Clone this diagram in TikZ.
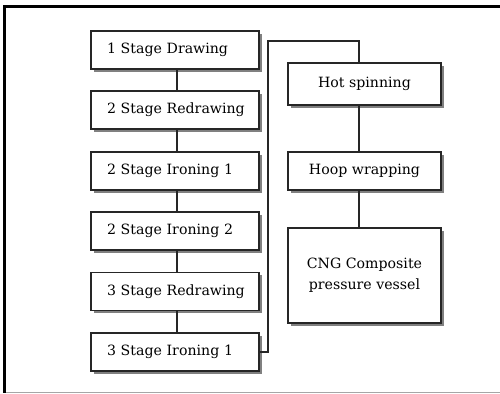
\documentclass[tikz,border=0pt]{standalone}
\usepackage{fontspec}
\setmainfont{DejaVu Serif}
\usetikzlibrary{shadows}
\begin{document}
\begin{tikzpicture}[x=1bp,y=-1bp,
  box/.style={draw=black!85, line width=1.1bp, fill=white, minimum height=38bp,
    font=\fontsize{14.2}{21}\selectfont,
    drop shadow={shadow xshift=2.5bp, shadow yshift=-2.5bp, fill=black!50, opacity=1}},
  lbox/.style={box, text width=168bp, inner xsep=0pt, align=left,
    execute at begin node={\hspace*{16bp}}},
  rbox/.style={box, minimum width=153bp, align=center},
  link/.style={draw=black!85, line width=1.1bp}]
\useasboundingbox (0,0) rectangle (500,393);
\fill[white] (0,0) rectangle (500,393);
% frame
\draw[line width=0.8bp, black!35] (4,392) -- (500,392);
\draw[line width=3bp] (500,6) -- (4,6) -- (4,393);
% left column
\node[lbox] (b1) at (175,50) {1 Stage Drawing};
\node[lbox] (b2) at (175,110) {2 Stage Redrawing};
\node[lbox] (b3) at (175,171) {2 Stage Ironing 1};
\node[lbox] (b4) at (175,231) {2 Stage Ironing 2};
\node[lbox] (b5) at (175,291.5) {3 Stage Redrawing};
\node[lbox] (b6) at (175,352) {3 Stage Ironing 1};
% right column
\node[rbox, minimum height=42bp] (hs) at (364.5,84) {Hot spinning};
\node[rbox] (hw) at (364.5,171) {Hoop wrapping};
\node[rbox, minimum height=95bp] (cng) at (364.5,275.5) {CNG Composite\\pressure vessel};
% connectors
\foreach \a/\b in {b1/b2,b2/b3,b3/b4,b4/b5,b5/b6}
  \draw[link] ([xshift=2bp]\a.south) -- ([xshift=2bp]\b.north);
\draw[link] ([xshift=-5.5bp]hs.south) -- ([xshift=-5.5bp]hw.north);
\draw[link] ([xshift=-5.5bp]hw.south) -- ([xshift=-5.5bp]cng.north);
\coordinate (turn) at (268,41);
\draw[link] (b6.east) -| (turn) -| ([xshift=-5.5bp]hs.north);
\end{tikzpicture}
\end{document}
